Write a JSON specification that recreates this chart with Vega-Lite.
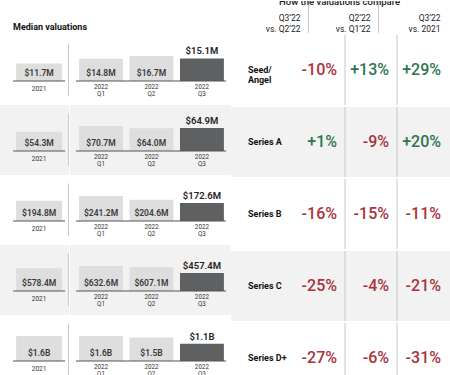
{
  "$schema": "https://vega.github.io/schema/vega-lite/v6.json",
  "padding": 0,
  "spacing": 0,
  "config": {"view": {"stroke": null}, "font": "Roboto", "text": {"font": "Roboto"}},
  "datasets": {
    "bars": [
      {"series": "Seed/\nAngel", "period": "2021", "value": 11.7, "label": "$11.7M"},
      {"series": "Seed/\nAngel", "period": "2022 Q1", "value": 14.8, "label": "$14.8M"},
      {"series": "Seed/\nAngel", "period": "2022 Q2", "value": 16.7, "label": "$16.7M"},
      {"series": "Seed/\nAngel", "period": "2022 Q3", "value": 15.1, "label": "$15.1M"},
      {"series": "Series A", "period": "2021", "value": 54.3, "label": "$54.3M"},
      {"series": "Series A", "period": "2022 Q1", "value": 70.7, "label": "$70.7M"},
      {"series": "Series A", "period": "2022 Q2", "value": 64.0, "label": "$64.0M"},
      {"series": "Series A", "period": "2022 Q3", "value": 64.9, "label": "$64.9M"},
      {"series": "Series B", "period": "2021", "value": 194.8, "label": "$194.8M"},
      {"series": "Series B", "period": "2022 Q1", "value": 241.2, "label": "$241.2M"},
      {"series": "Series B", "period": "2022 Q2", "value": 204.6, "label": "$204.6M"},
      {"series": "Series B", "period": "2022 Q3", "value": 172.6, "label": "$172.6M"},
      {"series": "Series C", "period": "2021", "value": 578.4, "label": "$578.4M"},
      {"series": "Series C", "period": "2022 Q1", "value": 632.6, "label": "$632.6M"},
      {"series": "Series C", "period": "2022 Q2", "value": 607.1, "label": "$607.1M"},
      {"series": "Series C", "period": "2022 Q3", "value": 457.4, "label": "$457.4M"},
      {"series": "Series D+", "period": "2021", "value": 1600, "label": "$1.6B"},
      {"series": "Series D+", "period": "2022 Q1", "value": 1600, "label": "$1.6B"},
      {"series": "Series D+", "period": "2022 Q2", "value": 1500, "label": "$1.5B"},
      {"series": "Series D+", "period": "2022 Q3", "value": 1100, "label": "$1.1B"}
    ],
    "pct": [
      {"series": "Seed/\nAngel", "cmp": "Q3’22 vs. Q2’22", "now": "Q3’22", "base": "vs. Q2’22", "pct": -10, "label": "-10%"},
      {"series": "Seed/\nAngel", "cmp": "Q2’22 vs. Q1’22", "now": "Q2’22", "base": "vs. Q1’22", "pct": 13, "label": "+13%"},
      {"series": "Seed/\nAngel", "cmp": "Q3’22 vs. 2021", "now": "Q3’22", "base": "vs. 2021", "pct": 29, "label": "+29%"},
      {"series": "Series A", "cmp": "Q3’22 vs. Q2’22", "now": "Q3’22", "base": "vs. Q2’22", "pct": 1, "label": "+1%"},
      {"series": "Series A", "cmp": "Q2’22 vs. Q1’22", "now": "Q2’22", "base": "vs. Q1’22", "pct": -9, "label": "-9%"},
      {"series": "Series A", "cmp": "Q3’22 vs. 2021", "now": "Q3’22", "base": "vs. 2021", "pct": 20, "label": "+20%"},
      {"series": "Series B", "cmp": "Q3’22 vs. Q2’22", "now": "Q3’22", "base": "vs. Q2’22", "pct": -16, "label": "-16%"},
      {"series": "Series B", "cmp": "Q2’22 vs. Q1’22", "now": "Q2’22", "base": "vs. Q1’22", "pct": -15, "label": "-15%"},
      {"series": "Series B", "cmp": "Q3’22 vs. 2021", "now": "Q3’22", "base": "vs. 2021", "pct": -11, "label": "-11%"},
      {"series": "Series C", "cmp": "Q3’22 vs. Q2’22", "now": "Q3’22", "base": "vs. Q2’22", "pct": -25, "label": "-25%"},
      {"series": "Series C", "cmp": "Q2’22 vs. Q1’22", "now": "Q2’22", "base": "vs. Q1’22", "pct": -4, "label": "-4%"},
      {"series": "Series C", "cmp": "Q3’22 vs. 2021", "now": "Q3’22", "base": "vs. 2021", "pct": -21, "label": "-21%"},
      {"series": "Series D+", "cmp": "Q3’22 vs. Q2’22", "now": "Q3’22", "base": "vs. Q2’22", "pct": -27, "label": "-27%"},
      {"series": "Series D+", "cmp": "Q2’22 vs. Q1’22", "now": "Q2’22", "base": "vs. Q1’22", "pct": -6, "label": "-6%"},
      {"series": "Series D+", "cmp": "Q3’22 vs. 2021", "now": "Q3’22", "base": "vs. 2021", "pct": -31, "label": "-31%"}
    ]
  },
  "vconcat": [
    {
      "hconcat": [
        {
          "data": {"name": "pct"},
          "transform": [{"filter": {"field": "series", "equal": "Seed/\nAngel"}}, {"filter": {"field": "cmp", "equal": "Q3’22 vs. Q2’22"}}],
          "width": 100,
          "height": 32,
          "mark": {"type": "text", "align": "center", "baseline": "alphabetic", "dy": 13, "fontSize": 9, "fontWeight": "bold", "color": "#111", "text": "Median valuations"},
          "encoding": {}
        },
        {
          "data": {"name": "pct"},
          "transform": [{"filter": {"field": "series", "equal": "Seed/\nAngel"}}],
          "width": 350,
          "height": 32,
          "layer": [
            {
              "transform": [{"filter": {"field": "cmp", "oneOf": ["Q2’22 vs. Q1’22", "Q3’22 vs. 2021"]}}],
              "mark": {"type": "rule", "color": "#c8c8c8", "strokeWidth": 1},
              "encoding": {
                "x": {"field": "cmp", "type": "nominal", "bandPosition": 0, "scale": {"domain": ["Q3’22 vs. Q2’22", "Q2’22 vs. Q1’22", "Q3’22 vs. 2021"], "paddingInner": 0, "paddingOuter": 1.865, "align": 0.9897}, "axis": null}
              }
            },
            {
              "mark": {"type": "text", "align": "right", "baseline": "alphabetic", "dx": -8, "dy": 3.5, "fontSize": 8.5, "color": "#222"},
              "encoding": {
                "x": {"field": "cmp", "type": "nominal", "bandPosition": 1},
                "text": {"field": "now"}
              }
            },
            {
              "mark": {"type": "text", "align": "right", "baseline": "alphabetic", "dx": -8, "dy": 14.5, "fontSize": 8.5, "color": "#222"},
              "encoding": {
                "x": {"field": "cmp", "type": "nominal", "bandPosition": 1},
                "text": {"field": "base"}
              }
            },
            {
              "transform": [{"filter": {"field": "cmp", "equal": "Q2’22 vs. Q1’22"}}],
              "mark": {"type": "text", "align": "center", "baseline": "alphabetic", "dx": -4, "dy": -12, "fontSize": 9.5, "fontWeight": 500, "color": "#222", "clip": true, "text": "How the valuations compare"},
              "encoding": {
                "x": {"field": "cmp", "type": "nominal", "bandPosition": 0.5}
              }
            }
          ]
        }
      ],
      "spacing": 0
    },
    {
      "hconcat": [
        {
          "data": {"name": "bars"},
          "spacing": 0,
          "facet": {"row": {"field": "series", "type": "nominal", "sort": ["Seed/\nAngel", "Series A", "Series B", "Series C", "Series D+"], "header": null}},
          "resolve": {"scale": {"y": "independent"}},
          "spec": {
            "width": 69,
            "height": 70,
            "layer": [
              {
                "transform": [{"filter": {"field": "series", "oneOf": ["Series A", "Series C"]}}, {"filter": {"field": "period", "equal": "2021"}}],
                "mark": {"type": "rect", "color": "#f2f2f2"},
                "encoding": {}
              },
              {
                "mark": {"type": "point", "opacity": 0},
                "encoding": {
                  "y": {"field": "value", "type": "quantitative", "scale": {"zero": true, "nice": false, "range": [46, 21]}, "axis": null}
                }
              },
              {
                "transform": [{"filter": {"field": "period", "equal": "2021"}}],
                "mark": {"type": "bar", "color": "#dedede"},
                "encoding": {
                  "x": {"field": "period", "type": "nominal", "scale": {"domain": ["2021"], "paddingInner": 0, "paddingOuter": 0.25, "align": 0.7}, "axis": null},
                  "y": {"field": "value", "type": "quantitative"}
                }
              },
              {
                "transform": [{"filter": {"field": "period", "equal": "2021"}}],
                "mark": {"type": "text", "baseline": "middle", "dy": -8.5, "fontSize": 8.5, "fontWeight": 600, "color": "#3a3a3a"},
                "encoding": {
                  "x": {"field": "period", "type": "nominal"},
                  "y": {"datum": 0, "type": "quantitative"},
                  "text": {"field": "label"}
                }
              },
              {
                "transform": [{"filter": {"field": "period", "equal": "2021"}}],
                "mark": {"type": "text", "baseline": "alphabetic", "dy": 10, "fontSize": 6.5, "color": "#333"},
                "encoding": {
                  "x": {"field": "period", "type": "nominal"},
                  "y": {"datum": 0, "type": "quantitative"},
                  "text": {"field": "period"}
                }
              },
              {
                "transform": [{"filter": {"field": "period", "equal": "2021"}}],
                "mark": {"type": "rule", "color": "#555", "strokeWidth": 1},
                "encoding": {
                  "x": {"datum": "2021", "bandPosition": -0.065},
                  "x2": {"datum": "2021", "bandPosition": 1.065},
                  "y": {"datum": 0, "type": "quantitative"}
                }
              },
              {
                "transform": [{"filter": {"field": "period", "equal": "2021"}}],
                "mark": {"type": "rule", "color": "#c8c8c8", "strokeWidth": 1},
                "encoding": {
                  "x": {"datum": "2021", "bandPosition": 1.14},
                  "y": {"value": 8.5},
                  "y2": {"value": 61}
                }
              }
            ]
          }
        },
        {
          "data": {"name": "bars"},
          "spacing": 0,
          "facet": {"row": {"field": "series", "type": "nominal", "sort": ["Seed/\nAngel", "Series A", "Series B", "Series C", "Series D+"], "header": null}},
          "resolve": {"scale": {"y": "independent"}},
          "spec": {
            "width": 161,
            "height": 70,
            "layer": [
              {
                "transform": [{"filter": {"field": "series", "oneOf": ["Series A", "Series C"]}}, {"filter": {"field": "period", "equal": "2022 Q1"}}],
                "mark": {"type": "rect", "color": "#f2f2f2"},
                "encoding": {}
              },
              {
                "mark": {"type": "point", "opacity": 0},
                "encoding": {
                  "y": {"field": "value", "type": "quantitative", "scale": {"zero": true, "nice": false, "range": [46, 21]}, "axis": null}
                }
              },
              {
                "transform": [{"filter": {"not": {"field": "period", "equal": "2021"}}}],
                "mark": {"type": "bar"},
                "encoding": {
                  "x": {"field": "period", "type": "nominal", "scale": {"domain": ["2022 Q1", "2022 Q2", "2022 Q3"], "paddingInner": 0.13, "paddingOuter": 0.16, "align": 0.56}, "axis": null},
                  "y": {"field": "value", "type": "quantitative"},
                  "color": {"condition": {"test": "datum.period === '2022 Q3'", "value": "#5f6061"}, "value": "#dedede"}
                }
              },
              {
                "transform": [{"filter": {"field": "period", "oneOf": ["2022 Q1", "2022 Q2"]}}],
                "mark": {"type": "text", "baseline": "middle", "dy": -8.5, "fontSize": 8.5, "fontWeight": 600, "color": "#3a3a3a"},
                "encoding": {
                  "x": {"field": "period", "type": "nominal"},
                  "y": {"datum": 0, "type": "quantitative"},
                  "text": {"field": "label"}
                }
              },
              {
                "transform": [{"filter": {"field": "period", "equal": "2022 Q3"}}],
                "mark": {"type": "text", "baseline": "alphabetic", "dy": -4, "fontSize": 9.5, "fontWeight": 600, "color": "#222"},
                "encoding": {
                  "x": {"field": "period", "type": "nominal"},
                  "y": {"field": "value", "type": "quantitative"},
                  "text": {"field": "label"}
                }
              },
              {
                "transform": [{"filter": {"not": {"field": "period", "equal": "2021"}}}],
                "mark": {"type": "text", "baseline": "alphabetic", "dy": 8, "lineBreak": " ", "lineHeight": 6.5, "fontSize": 6.3, "color": "#333"},
                "encoding": {
                  "x": {"field": "period", "type": "nominal"},
                  "y": {"datum": 0, "type": "quantitative"},
                  "text": {"field": "period"}
                }
              },
              {
                "transform": [{"filter": {"field": "period", "equal": "2022 Q1"}}],
                "mark": {"type": "rule", "color": "#555", "strokeWidth": 1},
                "encoding": {
                  "x": {"datum": "2022 Q1", "bandPosition": -0.07},
                  "x2": {"datum": "2022 Q3", "bandPosition": 1.05},
                  "y": {"datum": 0, "type": "quantitative"}
                }
              }
            ]
          }
        },
        {
          "data": {"name": "pct"},
          "spacing": 0,
          "facet": {"row": {"field": "series", "type": "nominal", "sort": ["Seed/\nAngel", "Series A", "Series B", "Series C", "Series D+"], "header": null}},
          "spec": {
            "width": 220,
            "height": 70,
            "layer": [
              {
                "transform": [{"filter": {"field": "series", "oneOf": ["Series A", "Series C"]}}, {"filter": {"field": "cmp", "equal": "Q3’22 vs. Q2’22"}}],
                "mark": {"type": "rect", "color": "#f2f2f2"},
                "encoding": {}
              },
              {
                "transform": [{"filter": {"field": "cmp", "oneOf": ["Q2’22 vs. Q1’22", "Q3’22 vs. 2021"]}}],
                "mark": {"type": "rule", "color": "#c8c8c8", "strokeWidth": 1},
                "encoding": {
                  "x": {"field": "cmp", "type": "nominal", "bandPosition": 0, "scale": {"domain": ["Q3’22 vs. Q2’22", "Q2’22 vs. Q1’22", "Q3’22 vs. 2021"], "paddingInner": 0, "paddingOuter": 0.6154, "align": 0.969}, "axis": null}
                }
              },
              {
                "transform": [{"filter": {"field": "cmp", "equal": "Q3’22 vs. Q2’22"}}],
                "mark": {"type": "text", "align": "left", "baseline": "middle", "dx": -45, "lineBreak": "\n", "lineHeight": 10, "fontSize": 9, "fontWeight": "bold", "color": "#111"},
                "encoding": {
                  "x": {"datum": "Q3’22 vs. Q2’22", "bandPosition": 0},
                  "text": {"field": "series"}
                }
              },
              {
                "mark": {"type": "text", "align": "right", "baseline": "middle", "dx": -8, "fontSize": 16, "fontWeight": 500},
                "encoding": {
                  "x": {"field": "cmp", "type": "nominal", "bandPosition": 1},
                  "text": {"field": "label"},
                  "color": {"condition": {"test": "datum.pct < 0", "value": "#a8323e"}, "value": "#2e7450"}
                }
              }
            ]
          }
        }
      ],
      "spacing": 0
    }
  ]
}
